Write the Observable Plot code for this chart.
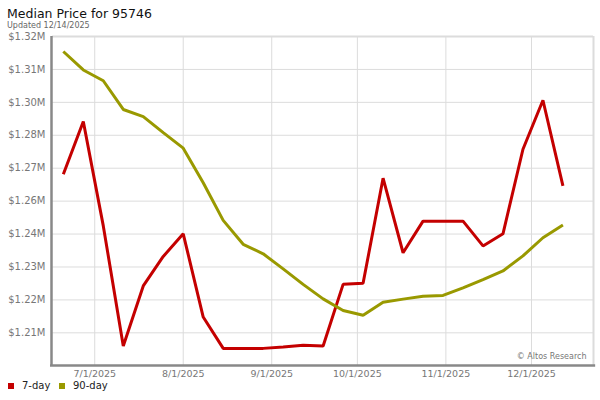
<!DOCTYPE html>
<html>
<head>
<meta charset="utf-8">
<script src="https://cdn.jsdelivr.net/npm/d3@7"></script>
<script src="https://cdn.jsdelivr.net/npm/@observablehq/plot@0.6"></script>
<style>
  body { margin: 0; background: #fff; font-family: "DejaVu Sans", sans-serif; }
  #wrap { width: 600px; height: 400px; position: relative; overflow: hidden; }
  #head { height: 30px; position: relative; }
  #title { position: absolute; left: 7px; top: 8px; font-size: 12.5px; line-height: 1; color: #111; white-space: nowrap; }
  #sub { position: absolute; left: 7px; top: 22px; font-size: 8px; line-height: 1; color: #666; white-space: nowrap; }
  #chart svg { display: block; }
  .lg-sw { position: absolute; width: 6px; height: 6px; }
  .lg-tx { position: absolute; font-size: 10px; line-height: 1; color: #222; white-space: nowrap; }
</style>
</head>
<body>
<div id="wrap">
  <div id="head">
    <div id="title"></div>
    <div id="sub"></div>
  </div>
  <div id="chart"></div>
  <div id="legend"></div>
</div>
<script>
const titleText = "Median Price for 95746";
const subtitleText = "Updated 12/14/2025";
const creditText = "© Altos Research";

const seriesNames = ["7-day", "90-day"];
const seriesColors = ["#c40000", "#999900"];

const dates = [
  "2025-06-20", "2025-06-27", "2025-07-04", "2025-07-11", "2025-07-18", "2025-07-25",
  "2025-08-01", "2025-08-08", "2025-08-15", "2025-08-22", "2025-08-29",
  "2025-09-05", "2025-09-12", "2025-09-19", "2025-09-26",
  "2025-10-03", "2025-10-10", "2025-10-17", "2025-10-24", "2025-10-31",
  "2025-11-07", "2025-11-14", "2025-11-21", "2025-11-28",
  "2025-12-05", "2025-12-12"
];

// values in $ millions
const sevenDay = [
  1.2677, 1.2877, 1.2481, 1.2025, 1.2253, 1.2365,
  1.2451, 1.2135, 1.2016, 1.2016, 1.2016,
  1.2021, 1.2028, 1.2025, 1.2259,
  1.2263, 1.2662, 1.2379, 1.2499, 1.2499,
  1.2499, 1.2405, 1.2451, 1.2772,
  1.2958, 1.2633
];

const ninetyDay = [
  1.3143, 1.3073, 1.3032, 1.2923, 1.2896, 1.2835,
  1.2776, 1.2645, 1.2502, 1.2411, 1.2375,
  1.2318, 1.2259, 1.2204, 1.2160,
  1.2142, 1.2191, 1.2203, 1.2214, 1.2217,
  1.2246, 1.2277, 1.2310, 1.2367,
  1.2436, 1.2484
];

const yTicks = [1.2075, 1.22, 1.2325, 1.245, 1.2575, 1.27, 1.2825, 1.295, 1.3075, 1.32];
const yTickLabels = ["$1.21M", "$1.22M", "$1.23M", "$1.24M", "$1.26M", "$1.27M", "$1.28M", "$1.30M", "$1.31M", "$1.32M"];

const xTickDates = ["2025-07-01", "2025-08-01", "2025-09-01", "2025-10-01", "2025-11-01", "2025-12-01"];
const xTickLabels = ["7/1/2025", "8/1/2025", "9/1/2025", "10/1/2025", "11/1/2025", "12/1/2025"];

const xDomainText = ["2025-06-16T05:00Z", "2025-12-22T17:00Z"];
const yDomain = [1.1951, 1.32];

document.getElementById("title").textContent = titleText;
document.getElementById("sub").textContent = subtitleText;

const xDomain = xDomainText.map(d => new Date(d));
const xTicks = xTickDates.map(d => new Date(d));
const bottomEnd = new Date("2025-12-24T04:00Z");

const tidy = [];
dates.forEach((d, i) => {
  tidy.push({date: new Date(d), value: sevenDay[i], series: seriesNames[0]});
  tidy.push({date: new Date(d), value: ninetyDay[i], series: seriesNames[1]});
});

const chart = Plot.plot({
  width: 600,
  height: 352,
  marginLeft: 52,
  marginRight: 7,
  marginTop: 6,
  marginBottom: 17,
  style: {fontFamily: "DejaVu Sans", background: "transparent", overflow: "visible"},
  x: {type: "utc", domain: xDomain, label: null},
  y: {domain: yDomain, label: null},
  color: {domain: seriesNames, range: seriesColors},
  marks: [
    Plot.ruleY(yTicks, {stroke: "#dcdcdc", strokeWidth: 1}),
    Plot.ruleX(xTicks, {stroke: "#dcdcdc", strokeWidth: 1}),
    Plot.ruleY([yDomain[1]], {stroke: "#dcdcdc", strokeWidth: 2}),
    Plot.ruleX([xDomain[1]], {stroke: "#dcdcdc", strokeWidth: 2}),
    Plot.line(tidy, {x: "date", y: "value", z: "series", stroke: "series", strokeWidth: 3, strokeLinejoin: "miter", strokeLinecap: "butt"}),
    Plot.ruleX([xDomain[0]], {stroke: "#888", strokeWidth: 2.5, dx: -1, y1: yDomain[0], y2: yDomain[1]}),
    Plot.ruleY([yDomain[0]], {stroke: "#888", strokeWidth: 2.5, x1: xDomain[0], x2: bottomEnd, dx: -2}),
    Plot.axisY({ticks: yTicks, tickFormat: d => yTickLabels[yTicks.indexOf(d)], tickSize: 0, tickPadding: 7, fill: "#777", fontSize: 10, label: null}),
    Plot.axisX({ticks: xTicks, tickFormat: d => xTickLabels[xTicks.findIndex(t => +t === +d)], tickSize: 0, tickPadding: 5, fill: "#777", fontSize: 9.5, label: null}),
    Plot.text([creditText], {frameAnchor: "bottom-right", dx: -7, dy: -7, fill: "#777", fontSize: 8})
  ]
});
document.getElementById("chart").appendChild(chart);

// legend
const legend = document.getElementById("legend");
const legendX = [8, 59];
seriesNames.forEach((name, i) => {
  const sw = document.createElement("div");
  sw.className = "lg-sw";
  sw.style.left = legendX[i] + "px";
  sw.style.top = "383px";
  sw.style.background = seriesColors[i];
  legend.appendChild(sw);
  const tx = document.createElement("div");
  tx.className = "lg-tx";
  tx.style.left = (legendX[i] + 14) + "px";
  tx.style.top = "381px";
  tx.textContent = name;
  legend.appendChild(tx);
});
</script>
</body>
</html>
